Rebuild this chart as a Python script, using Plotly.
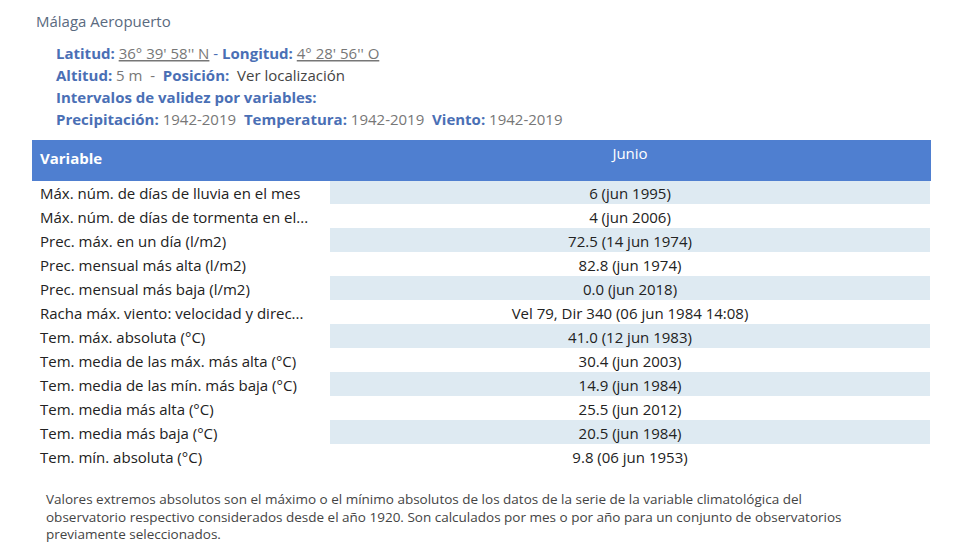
import plotly.graph_objects as go

variables = ["Máx. núm. de días de lluvia en el mes", "Máx. núm. de días de tormenta en el...",
             "Prec. máx. en un día (l/m2)", "Prec. mensual más alta (l/m2)", "Prec. mensual más baja (l/m2)",
             "Racha máx. viento: velocidad y direc...", "Tem. máx. absoluta (°C)",
             "Tem. media de las máx. más alta (°C)", "Tem. media de las mín. más baja (°C)",
             "Tem. media más alta (°C)", "Tem. media más baja (°C)", "Tem. mín. absoluta (°C)"]
junio = ["6 (jun 1995)", "4 (jun 2006)", "72.5 (14 jun 1974)", "82.8 (jun 1974)", "0.0 (jun 2018)",
         "Vel 79, Dir 340 (06 jun 1984 14:08)", "41.0 (12 jun 1983)", "30.4 (jun 2003)",
         "14.9 (jun 1984)", "25.5 (jun 2012)", "20.5 (jun 1984)", "9.8 (06 jun 1953)"]

W, H = 966, 555
DX, DY = 8, 8
F = "Open Sans"
blue = "#4f7fd0"
lab = "#4a6fb5"
gray = "#777"
valfill = ["#deeaf2" if i % 2 == 0 else "white" for i in range(len(junio))]

fig = go.Figure(go.Table(
    domain=dict(x=[(32 - DX) / W, (930 - DX) / W], y=[1 - (472 - DY) / H, 1 - (140 - DY) / H]),
    columnwidth=[298, 600],
    header=dict(values=["<b>Variable</b>", "Junio"], fill_color=blue, line_color=blue,
                font=dict(family=F, size=15, color="white"), align=["left", "center"], height=40),
    cells=dict(values=[variables, junio], fill_color=[["white"] * len(junio), valfill],
               line_color="white", line_width=0,
               font=dict(family=F, size=15, color="#222"), align=["left", "center"], height=24),
))

def ann(x, y, text, size=15, color=gray, align="left"):
    fig.add_annotation(x=(x - DX) / W, y=1 - (y - DY) / H, xref="paper", yref="paper", text=text, showarrow=False,
                       xanchor="left", yanchor="middle", align=align,
                       font=dict(family=F, size=size, color=color))

ann(34, 21, "Málaga Aeropuerto", 15, "#5a6a80")
ann(54, 53, f"<b><span style='color:{lab}'>Latitud:</span></b> <u>36° 39' 58'' N</u> <span style='color:{lab}'>-</span> <b><span style='color:{lab}'>Longitud:</span></b> <u>4° 28' 56'' O</u>")
ann(54, 75, f"<b><span style='color:{lab}'>Altitud:</span></b> 5 m  -  <b><span style='color:{lab}'>Posición:</span></b>  <span style='color:#444'>Ver localización</span>")
ann(54, 97, f"<b><span style='color:{lab}'>Intervalos de validez por variables:</span></b>")
ann(54, 119, f"<b><span style='color:{lab}'>Precipitación:</span></b> 1942-2019  <b><span style='color:{lab}'>Temperatura:</span></b> 1942-2019  <b><span style='color:{lab}'>Viento:</span></b> 1942-2019")
ann(44, 516, "Valores extremos absolutos son el máximo o el mínimo absolutos de los datos de la serie de la variable climatológica del<br>"
             "observatorio respectivo considerados desde el año 1920. Son calculados por mes o por año para un conjunto de observatorios<br>"
             "previamente seleccionados.", 13.5, "#444")

fig.update_layout(width=W, height=H, margin=dict(l=0, r=0, t=0, b=0),
                  paper_bgcolor="white", plot_bgcolor="white")
fig.write_html("out.html")
